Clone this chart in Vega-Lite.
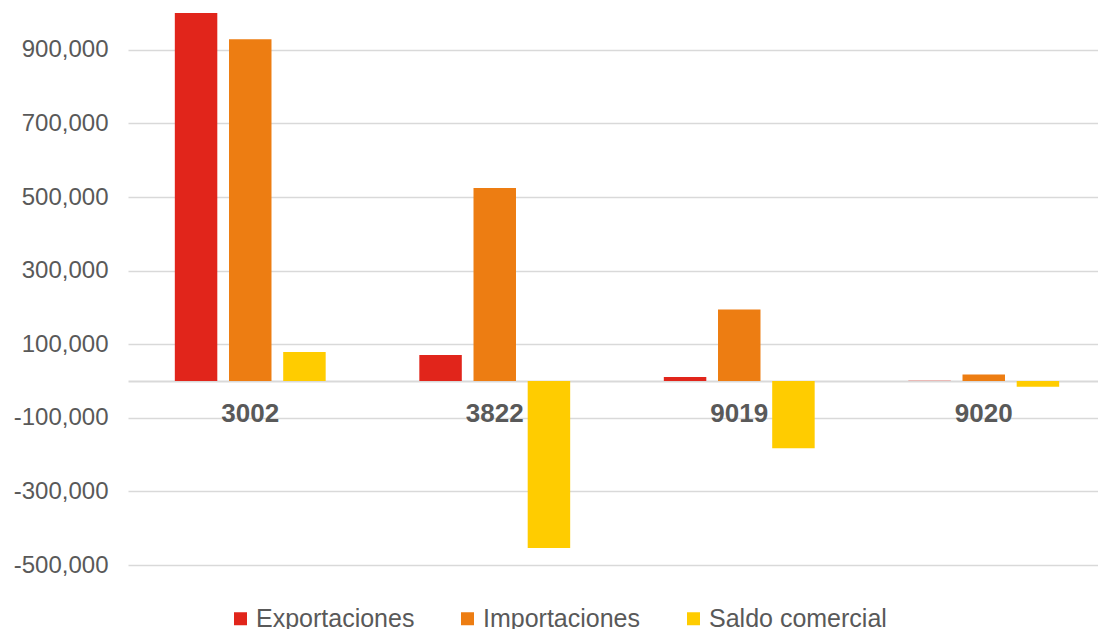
{
  "$schema": "https://vega.github.io/schema/vega-lite/v6.json",
  "autosize": {"type": "none"},
  "padding": {"left": 128, "top": 13, "right": 0, "bottom": 64},
  "width": 978,
  "height": 552,
  "background": "white",
  "config": {"view": {"stroke": null}, "font": "Liberation Sans"},
  "data": {
    "values": [
      {"codigo": "3002", "serie": "Exportaciones", "valor": 1008000},
      {"codigo": "3002", "serie": "Importaciones", "valor": 929000},
      {"codigo": "3002", "serie": "Saldo comercial", "valor": 79000},
      {"codigo": "3822", "serie": "Exportaciones", "valor": 70700},
      {"codigo": "3822", "serie": "Importaciones", "valor": 524500},
      {"codigo": "3822", "serie": "Saldo comercial", "valor": -453800},
      {"codigo": "9019", "serie": "Exportaciones", "valor": 11000},
      {"codigo": "9019", "serie": "Importaciones", "valor": 194000},
      {"codigo": "9019", "serie": "Saldo comercial", "valor": -183000},
      {"codigo": "9020", "serie": "Exportaciones", "valor": 1000},
      {"codigo": "9020", "serie": "Importaciones", "valor": 18000},
      {"codigo": "9020", "serie": "Saldo comercial", "valor": -15500}
    ]
  },
  "mark": {"type": "bar", "clip": true},
  "encoding": {
    "x": {
      "field": "codigo",
      "type": "nominal",
      "sort": null,
      "scale": {"paddingInner": 0.383, "paddingOuter": 0.1915},
      "axis": {
        "title": null,
        "offset": -184,
        "domain": true,
        "domainColor": "#d9d9d9",
        "domainWidth": 2,
        "ticks": false,
        "labelAngle": 0,
        "labelFont": "Liberation Sans",
        "labelFontSize": 26,
        "labelFontWeight": "bold",
        "labelColor": "#595959",
        "labelPadding": 19
      }
    },
    "xOffset": {
      "field": "serie",
      "type": "nominal",
      "sort": ["Exportaciones", "Importaciones", "Saldo comercial"],
      "scale": {"paddingInner": 0.216, "paddingOuter": 0}
    },
    "y": {
      "field": "valor",
      "type": "quantitative",
      "scale": {"domain": [-500000, 1000000], "nice": false, "zero": false},
      "axis": {
        "title": null,
        "values": [-500000, -300000, -100000, 100000, 300000, 500000, 700000, 900000],
        "domain": false,
        "ticks": false,
        "grid": true,
        "gridColor": "#d9d9d9",
        "gridWidth": 1.5,
        "labelFont": "Liberation Sans",
        "labelFontSize": 24,
        "labelColor": "#595959",
        "labelPadding": 20,
        "labelExpr": "(datum.value < 0 ? '-' : '') + format(abs(datum.value), ',')"
      }
    },
    "color": {
      "field": "serie",
      "type": "nominal",
      "sort": ["Exportaciones", "Importaciones", "Saldo comercial"],
      "scale": {
        "domain": ["Exportaciones", "Importaciones", "Saldo comercial"],
        "range": ["#E1251B", "#ED7D12", "#FFCC00"]
      },
      "legend": {
        "title": null,
        "orient": "none",
        "direction": "horizontal",
        "legendX": 100,
        "legendY": 593,
        "padding": 0,
        "symbolType": "square",
        "symbolSize": 169,
        "symbolStrokeWidth": 0,
        "symbolOpacity": 1,
        "labelFont": "Liberation Sans",
        "labelFontSize": 25,
        "labelColor": "#595959",
        "labelOffset": 3,
        "columnPadding": 40,
        "labelLimit": 400
      }
    }
  }
}
